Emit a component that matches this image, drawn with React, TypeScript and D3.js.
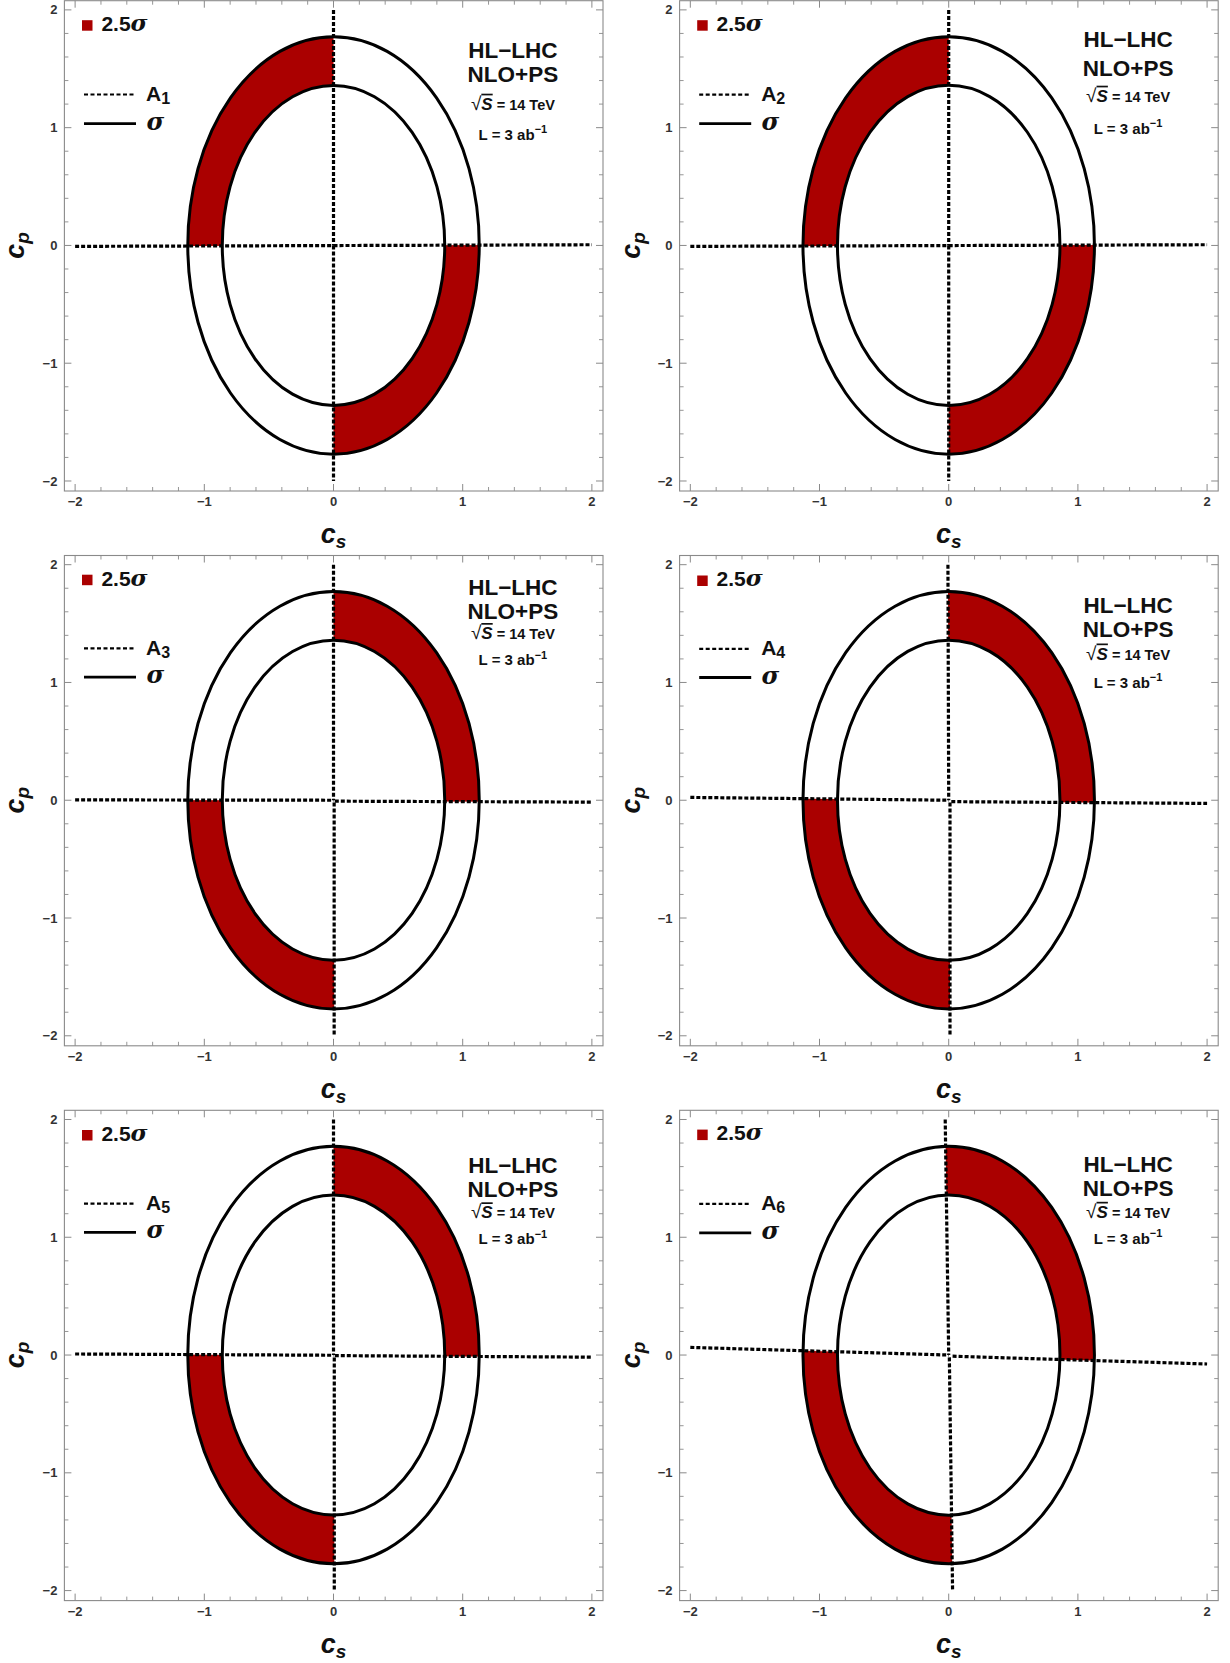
import React from "react";
import * as d3 from "d3";

// ---------- data ----------
const amplitudeIndex = [1, 2, 3, 4, 5, 6];
const filledQuadrants = [
  ["TL", "BR"],
  ["TL", "BR"],
  ["TR", "BL"],
  ["TR", "BL"],
  ["TR", "BL"],
  ["TR", "BL"],
];
// sigma contours (semi-axes along c_s, c_p)
const outerContour = [1.128, 1.772];
const innerContour = [0.861, 1.358];

// A_i = 0 contour pieces, [c_s, c_p]
const hZeroLeft = [
  [[-2, -0.008], [0, -0.001]],
  [[-2, -0.008], [0, -0.001]],
  [[-2, 0.003], [0, 0.0]],
  [[-2, 0.024], [0, 0.0]],
  [[-2, 0.009], [0, -0.002]],
  [[-2, 0.065], [0, 0.0]],
];
const hZeroRight = [
  [[0, -0.001], [2, 0.006]],
  [[0, -0.001], [2, 0.006]],
  [[0.01, -0.008], [2, -0.016]],
  [[0.02, -0.012], [2, -0.027]],
  [[0.01, -0.005], [2, -0.018]],
  [[0.03, -0.01], [2, -0.076]],
];
const vZeroTop = [
  [[0, 2], [0, 0]],
  [[0, 2], [0, 0]],
  [[0, 2], [0, 0]],
  [[-0.006, 2], [0, 0]],
  [[0, 2], [0, 0]],
  [[-0.027, 2], [0, 0]],
];
const vZeroBottom = [
  [[0, 0], [0, -2]],
  [[0, 0], [0, -2]],
  [[0.005, -0.02], [0.005, -2]],
  [[0.01, -0.02], [0.01, -2]],
  [[0.006, -0.02], [0.006, -2]],
  [[0.005, -0.02], [0.03, -2]],
];

const majorTicks = [-2, -1, 0, 1, 2];
const minorTicks = d3.range(-20, 21, 2).map((v) => v / 10).filter((v) => Math.abs(v - Math.round(v)) > 1e-6);
const sigmaLevel = "2.5";
const experiment = "HL\u2212LHC";
const accuracy = "NLO+PS";
const energyText = " = 14 TeV";
const lumiText = "L = 3 ab";

// ---------- layout ----------
const W = 1230;
const H = 1663;
const COL_X = [64.4, 679.6];
const ROW_Y = [0.7, 555.5, 1110.3];
const PW = 538.6;
const PH = 490.3;
const DOM_X = [-2.083, 2.086];
const DOM_Y = [-2.085, 2.078];
const FILL = "#aa0000";
const SANS = "'Liberation Sans', Arial, sans-serif";
const GREEK = "'DejaVu Serif', 'Liberation Serif', serif";
const textBase = [
  [57, 81, 111, 139],
  [46, 75, 103, 133],
  [39.5, 63, 85.5, 109.5],
  [57.5, 81, 106, 132],
  [62.5, 86.5, 110, 134],
  [61.5, 85.5, 109.5, 133.5],
];
const legendY = [
  [19.5, 93.8, 123],
  [19.5, 94, 123],
  [19.2, 92.9, 121.7],
  [20, 93.4, 122],
  [19.7, 93.3, 122],
  [19.3, 93.6, 122.6],
];

const fmt = d3.format("d");

function ellipsePath(x: any, y: any, ab: number[]) {
  const cx = x(0), cy = y(0);
  const rx = x(ab[0]) - cx;
  const ry = cy - y(ab[1]);
  return `M${cx - rx},${cy}A${rx},${ry} 0 1,0 ${cx + rx},${cy}A${rx},${ry} 0 1,0 ${cx - rx},${cy}Z`;
}

function Panel({ i }: { i: number }) {
  const col = i % 2;
  const row = Math.floor(i / 2);
  const x0 = COL_X[col];
  const y0 = ROW_Y[row];
  const x = d3.scaleLinear().domain(DOM_X).range([x0, x0 + PW]);
  const y = d3.scaleLinear().domain(DOM_Y).range([y0 + PH, y0]);
  const line = d3.line<number[]>().x((d) => x(d[0])).y((d) => y(d[1]));

  const hL = hZeroLeft[i], hR = hZeroRight[i], vT = vZeroTop[i], vB = vZeroBottom[i];
  const B = 2.6;
  const quads: Record<string, number[][]> = {
    TL: [[-B, B], [-B, hL[0][1]], ...hL, ...vT.slice().reverse(), [vT[0][0], B]],
    TR: [[vT[0][0], B], ...vT, ...hR, [B, hR[hR.length - 1][1]], [B, B]],
    BL: [[-B, hL[0][1]], ...hL, ...vB, [vB[vB.length - 1][0], -B], [-B, -B]],
    BR: [[B, hR[hR.length - 1][1]], ...hR.slice().reverse(), ...vB, [vB[vB.length - 1][0], -B], [B, -B]],
  };
  const annulus = ellipsePath(x, y, outerContour) + ellipsePath(x, y, innerContour);

  const tb = textBase[i];
  const ly = legendY[i];
  const tx = x0 + 448.5;
  const frameGray = "#8a8a8a";

  return (
    <g>
      <defs>
        {filledQuadrants[i].map((q) => (
          <clipPath id={`clip-${i}-${q}`} key={q}>
            <path d={line(quads[q]) + "Z"} />
          </clipPath>
        ))}
      </defs>
      {/* fills */}
      {filledQuadrants[i].map((q) => (
        <path key={q} d={annulus} fill={FILL} fillRule="evenodd" clipPath={`url(#clip-${i}-${q})`} />
      ))}
      {/* contours */}
      <path d={ellipsePath(x, y, outerContour)} fill="none" stroke="#000" strokeWidth={3} />
      <path d={ellipsePath(x, y, innerContour)} fill="none" stroke="#000" strokeWidth={3} />
      {/* zero lines */}
      {[hL, hR, vT, vB].map((seg, k) => (
        <path key={k} d={line(seg) || ""} fill="none" stroke="#000" strokeWidth={3.2} strokeDasharray="4 2" />
      ))}

      {/* frame */}
      <rect x={x0} y={y0} width={PW} height={PH} fill="none" stroke={frameGray} strokeWidth={1.1} />
      {majorTicks.map((t) => (
        <g key={"M" + t} stroke={frameGray} strokeWidth={1}>
          <line x1={x(t)} x2={x(t)} y1={y0 + PH} y2={y0 + PH - 7} />
          <line x1={x(t)} x2={x(t)} y1={y0} y2={y0 + 7} />
          <line x1={x0} x2={x0 + 7} y1={y(t)} y2={y(t)} />
          <line x1={x0 + PW} x2={x0 + PW - 7} y1={y(t)} y2={y(t)} />
        </g>
      ))}
      {minorTicks.map((t) => (
        <g key={"m" + t} stroke={frameGray} strokeWidth={0.9}>
          <line x1={x(t)} x2={x(t)} y1={y0 + PH} y2={y0 + PH - 4} />
          <line x1={x(t)} x2={x(t)} y1={y0} y2={y0 + 4} />
          <line x1={x0} x2={x0 + 4} y1={y(t)} y2={y(t)} />
          <line x1={x0 + PW} x2={x0 + PW - 4} y1={y(t)} y2={y(t)} />
        </g>
      ))}
      {majorTicks.map((t) => (
        <text key={"xl" + t} x={x(t)} y={y0 + PH + 15} textAnchor="middle" fontFamily={SANS} fontWeight="bold" fontSize={13} fill="#333">
          {fmt(t)}
        </text>
      ))}
      {majorTicks.map((t) => (
        <text key={"yl" + t} x={x0 - 7} y={y(t) + 4.6} textAnchor="end" fontFamily={SANS} fontWeight="bold" fontSize={13} fill="#333">
          {fmt(t)}
        </text>
      ))}
      {/* axis titles */}
      <text x={x(0)} y={y0 + PH + 52} textAnchor="middle" fontFamily={SANS} fontWeight="bold" fontStyle="italic" fontSize={27} fill="#111">
        c<tspan fontSize={19} dy={5}>s</tspan>
      </text>
      <text transform={`translate(${x0 - 40},${y(0)}) rotate(-90)`} textAnchor="middle" fontFamily={SANS} fontWeight="bold" fontStyle="italic" fontSize={27} fill="#111">
        c<tspan fontSize={19} dy={5}>p</tspan>
      </text>

      {/* legend */}
      <rect x={x0 + 17.6} y={y0 + ly[0]} width={10.5} height={10.5} fill={FILL} />
      <text x={x0 + 37} y={y0 + ly[0] + 10.8} fontFamily={SANS} fontWeight="bold" fontSize={21} fill="#111">
        {sigmaLevel}
        <tspan fontFamily={GREEK} fontStyle="italic" fontSize={23}>σ</tspan>
      </text>
      <line x1={x0 + 19.6} x2={x0 + 71.6} y1={y0 + ly[1]} y2={y0 + ly[1]} stroke="#000" strokeWidth={2.2} strokeDasharray="4 2.5" />
      <text x={x0 + 81.6} y={y0 + ly[1] + 6.5} fontFamily={SANS} fontWeight="bold" fontSize={21} fill="#111">
        A<tspan fontSize={16} dy={3}>{amplitudeIndex[i]}</tspan>
      </text>
      <line x1={x0 + 19.6} x2={x0 + 71.6} y1={y0 + ly[2]} y2={y0 + ly[2]} stroke="#000" strokeWidth={2.8} />
      <text x={x0 + 82} y={y0 + ly[2] + 6} fontFamily={GREEK} fontWeight="bold" fontStyle="italic" fontSize={24} fill="#111">
        σ
      </text>

      {/* annotation */}
      <text x={tx} y={y0 + tb[0]} textAnchor="middle" fontFamily={SANS} fontWeight="bold" fontSize={22.5} fill="#111">
        {experiment}
      </text>
      <text x={tx} y={y0 + tb[1]} textAnchor="middle" fontFamily={SANS} fontWeight="bold" fontSize={22.5} fill="#111">
        {accuracy}
      </text>
      <text x={tx} y={y0 + tb[2] - 2} textAnchor="middle" fontFamily={SANS} fontWeight="bold" fontSize={14.5} fill="#111">
        <tspan fontSize={19} fontWeight="normal">√</tspan>
        <tspan fontSize={17} fontStyle="italic" style={{ textDecoration: "overline" }}>S</tspan>
        <tspan>{energyText}</tspan>
      </text>
      <text x={tx} y={y0 + tb[3]} textAnchor="middle" fontFamily={SANS} fontWeight="bold" fontSize={15} fill="#111">
        {lumiText}
        <tspan fontSize={11} dy={-6.5}>−1</tspan>
      </text>
    </g>
  );
}

export default function App() {
  return (
    <svg width={W} height={H} style={{ position: "absolute", left: 0, top: 0, background: "#fff" }}>
      <rect x={0} y={0} width={W} height={H} fill="#fff" />
      {amplitudeIndex.map((_, i) => (
        <Panel key={i} i={i} />
      ))}
    </svg>
  );
}
